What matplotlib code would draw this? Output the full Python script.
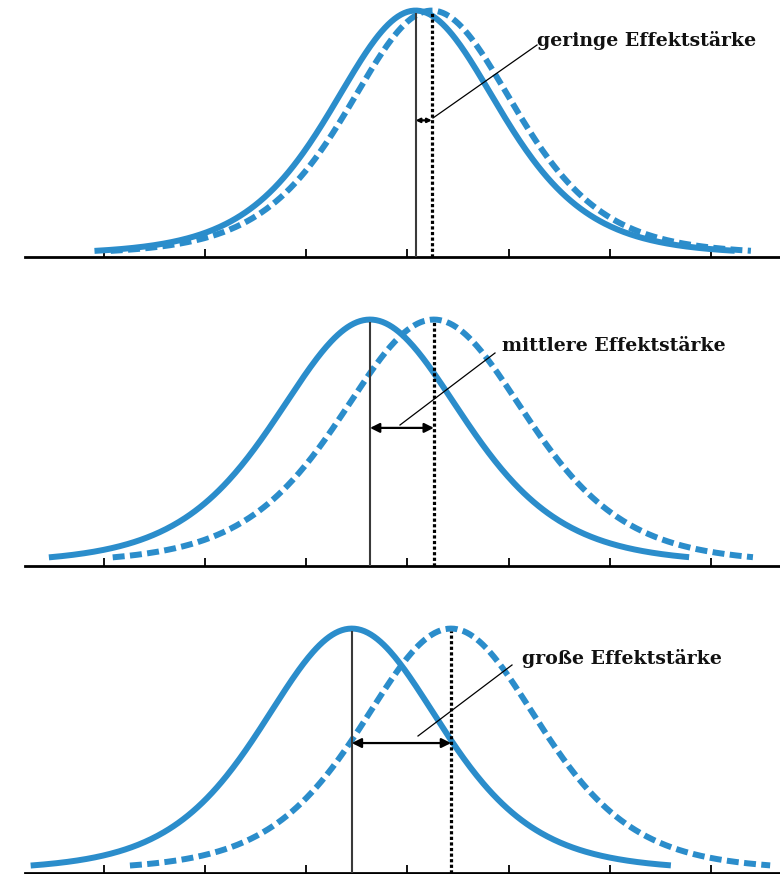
import numpy as np
import matplotlib
matplotlib.use("Agg")
import matplotlib.pyplot as plt

# one panel per effect size (units = tick spacing on the x axis)
labels = ["geringe Effektstärke", "mittlere Effektstärke", "große Effektstärke"]
mean_a = [0.08, -0.37, -0.55]      # solid curve (control group)
mean_b = [0.24, 0.26, 0.43]        # dashed curve (treatment group)
spread = [0.85, 0.95, 0.91]
arrow_y = [0.56, 0.566, 0.537]
tick_pos = [-3, -2, -1, 0, 1, 2, 3]

BLUE = "#2b8dcb"
W, H = 780, 874
PX_PER_UNIT = 101.3
ZERO_PX = 407.5
XMIN = -ZERO_PX / PX_PER_UNIT
XMAX = (W - ZERO_PX) / PX_PER_UNIT

# layout of the three panels in pixels
axis_px = [257, 566, 873]
peak_px = [244, 244, 242]
text_px = [(537, 40), (502, 346), (522, 658)]
lead_px = [((537, 45), (433, 118)), ((495, 353), (400, 425)), ((512, 665), (418, 736))]


def bell(x, mu, s, df=6):
    # bell curve with slightly heavier tails than a plain gaussian
    z = (x - mu) / s
    return (1 + z ** 2 / df) ** (-(df + 1) / 2)


def to_data(px, py, base, peak):
    return (px - ZERO_PX) / PX_PER_UNIT, (base - py) / peak


fig = plt.figure(figsize=(W / 100, H / 100), dpi=100)
box = 262

for i in range(3):
    base, peak = axis_px[i], peak_px[i]
    ax = fig.add_axes([0, (H - base) / H, 1, box / H])
    ax.set_xlim(XMIN, XMAX)
    ax.set_ylim(0, box / peak)
    ax.patch.set_alpha(0)
    for side in ["left", "top", "right"]:
        ax.spines[side].set_visible(False)
    ax.spines["bottom"].set_linewidth(2.0)
    ax.spines["bottom"].set_bounds((25 - ZERO_PX) / PX_PER_UNIT, XMAX)
    ax.set_yticks([])
    ax.set_xticks(tick_pos)
    ax.tick_params(axis="x", direction="in", length=6, width=1.3, labelbottom=False)

    xa = np.linspace(mean_a[i] - 3.17, mean_a[i] + 3.15, 400)
    xb = np.linspace(mean_b[i] - 3.17, mean_b[i] + 3.15, 400)
    ax.plot(xa, bell(xa, mean_a[i], spread[i]) + 0.01, color=BLUE, lw=4.3,
            solid_capstyle="butt", clip_on=False, zorder=2)
    ax.plot(xb, bell(xb, mean_b[i], spread[i]) + 0.01, color=BLUE, lw=4.3,
            dashes=(2.0, 0.9), dash_capstyle="butt", clip_on=False, zorder=2)

    ax.vlines(mean_a[i], 0, 1, color="#3a3a3a", lw=1.5, zorder=3)
    ax.vlines(mean_b[i], 0, 1, color="black", lw=2.3,
              linestyles=[(0, (1, 0.75))], zorder=3)

    scale = 6 if i == 0 else 14
    ax.annotate("", xy=(mean_b[i], arrow_y[i]), xytext=(mean_a[i], arrow_y[i]),
                arrowprops=dict(arrowstyle="<|-|>", color="black", lw=1.6,
                                mutation_scale=scale, shrinkA=0, shrinkB=0),
                zorder=4)

    (x0, y0), (x1, y1) = lead_px[i]
    p0 = to_data(x0, y0, base, peak)
    p1 = to_data(x1, y1, base, peak)
    ax.plot([p0[0], p1[0]], [p0[1], p1[1]], color="black", lw=0.9, zorder=4)

    tx, ty = to_data(*text_px[i], base, peak)
    ax.text(tx, ty, labels[i], ha="left", va="center", fontsize=13.6,
            fontweight="bold", family="DejaVu Serif", color="#111111")

fig.savefig("out.png", dpi=100, facecolor="white")
